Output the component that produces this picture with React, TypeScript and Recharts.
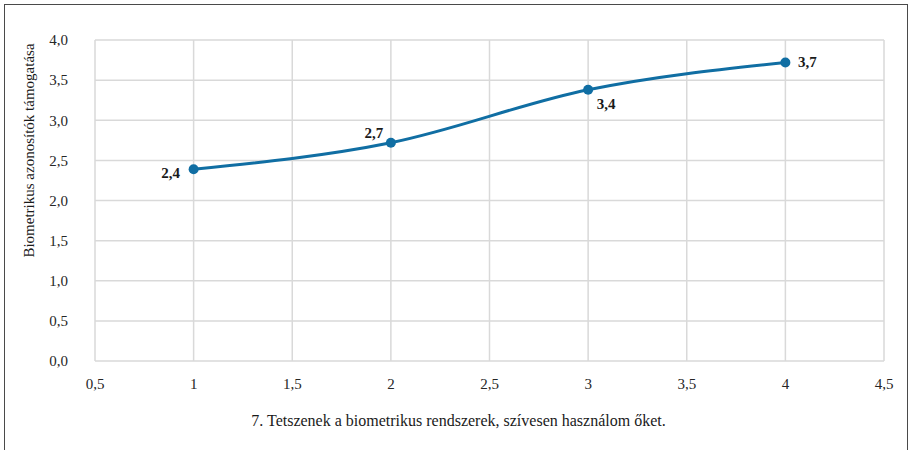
import { LineChart, Line, XAxis, YAxis, CartesianGrid, LabelList } from "recharts";

const xValues = [1, 2, 3, 4];
const support = [2.39, 2.72, 3.38, 3.72];
const xTicks = [0.5, 1, 1.5, 2, 2.5, 3, 3.5, 4, 4.5];
const yTicks = [0, 0.5, 1, 1.5, 2, 2.5, 3, 3.5, 4];

const yTitle = "Biometrikus azonosítók támogatása";
const xTitle = "7. Tetszenek a biometrikus rendszerek, szívesen használom őket.";

const data = xValues.map((x, i) => ({ x, v: support[i] }));

// label offsets from point centre, per point
const labelOffsets = [
  { dx: -23, dy: 4 },
  { dx: -17, dy: -10 },
  { dx: 18, dy: 14 },
  { dx: 22, dy: 0 },
];

const font = "'Liberation Serif', 'Times New Roman', serif";
const comma = (v: number) => v.toFixed(1).replace(".", ",");
const tickFmt = (v: number) => (Number.isInteger(v) ? String(v) : String(v).replace(".", ","));

const PointLabel = (props: any) => {
  const { x, y, value, index } = props;
  const o = labelOffsets[index] || { dx: 0, dy: -12 };
  return (
    <text
      x={x + o.dx}
      y={y + o.dy}
      textAnchor="middle"
      dominantBaseline="central"
      fontFamily={font}
      fontSize={15}
      fontWeight="bold"
      fill="#1a1a1a"
    >
      {comma(value)}
    </text>
  );
};

export default function App() {
  return (
    <div style={{ position: "absolute", left: 0, top: 0, width: 909, height: 450, background: "#fff", overflow: "hidden" }}>
      <div
        style={{
          position: "absolute",
          left: 4,
          top: 4,
          width: 902,
          height: 470,
          border: "1.5px solid #4a4a4a",
        }}
      />
      <LineChart
        width={909}
        height={450}
        data={data}
        margin={{ top: 40, right: 25, bottom: 0, left: 0 }}
        style={{ position: "absolute", left: 0, top: 0 }}
      >
        <CartesianGrid stroke="#d9d9d9" strokeWidth={1.5} />
        <XAxis
          dataKey="x"
          type="number"
          domain={[0.5, 4.5]}
          ticks={xTicks}
          tickFormatter={tickFmt}
          axisLine={false}
          tickLine={false}
          tickSize={0}
          tickMargin={17}
          height={89}
          interval={0}
          tick={{ fontFamily: font, fontSize: 15, fill: "#262626" }}
          label={{
            content: () => (
              <text x={458.5} y={420} textAnchor="middle" dominantBaseline="central" fontFamily={font} fontSize={16} fill="#1a1a1a">
                {xTitle}
              </text>
            ),
          }}
        />
        <YAxis
          type="number"
          domain={[0, 4]}
          ticks={yTicks}
          tickFormatter={comma}
          axisLine={false}
          tickLine={false}
          tickSize={0}
          tickMargin={27}
          width={95}
          interval={0}
          tick={{ fontFamily: font, fontSize: 15, fill: "#262626" }}
          label={{
            content: () => (
              <text
                x={29}
                y={150.5}
                textAnchor="middle"
                dominantBaseline="central"
                transform="rotate(-90 29 150.5)"
                fontFamily={font}
                fontSize={15}
                fill="#1a1a1a"
              >
                {yTitle}
              </text>
            ),
          }}
        />
        <Line
          type="monotone"
          dataKey="v"
          stroke="#106ea3"
          strokeWidth={3}
          dot={{ r: 5, fill: "#106ea3", stroke: "#106ea3", strokeWidth: 0 }}
          isAnimationActive={false}
        >
          <LabelList dataKey="v" content={PointLabel} />
        </Line>
      </LineChart>
    </div>
  );
}
